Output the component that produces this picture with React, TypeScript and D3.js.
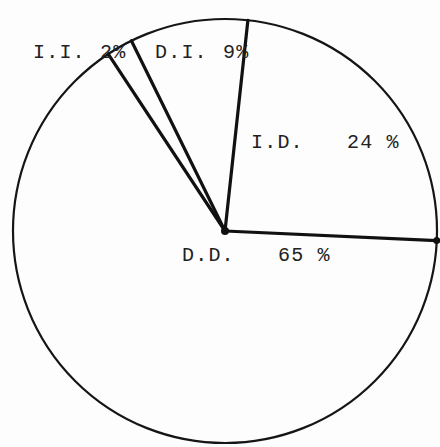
import React from "react";
import * as d3 from "d3";

const categories = ["I.D.", "D.D.", "I.I.", "D.I."];
const values = [24, 65, 2, 9];
const valueLabels = ["24 %", "65 %", "2%", "9%"];

// label layout (pixel positions of the name and of the value text)
const nameX = [251, 182, 33, 155];
const nameY = [148, 261, 58, 58];
const valX = [347, 278, 100, 223];

const W = 440;
const H = 447;
const cx = 225;
const cy = 231;
const R = 212;
const startDeg = 6.2;

export default function App() {
  const pie = d3
    .pie<number>()
    .sort(null)
    .startAngle((startDeg * Math.PI) / 180)
    .endAngle((startDeg * Math.PI) / 180 + 2 * Math.PI);
  const arcs = pie(values);
  const font = "'Liberation Mono', 'DejaVu Sans Mono', monospace";
  const rightEnd = d3.pointRadial(arcs[0].endAngle, R);
  return (
    <div style={{ position: "absolute", left: 0, top: 0, width: W, height: H, background: "#fff" }}>
      <svg width={W} height={H} style={{ display: "block" }}>
        <rect width={W} height={H} fill="#fdfdfd" />
        <g transform={`translate(${cx},${cy})`}>
          <circle r={R} fill="none" stroke="#151515" strokeWidth={2.2} />
          {arcs.map((a, i) => {
            const [x, y] = d3.pointRadial(a.startAngle, R);
            return (
              <line key={i} x1={0} y1={0} x2={x} y2={y} stroke="#111" strokeWidth={3.2} strokeLinecap="round" />
            );
          })}
          <circle r={4} fill="#111" />
          <circle cx={rightEnd[0]} cy={rightEnd[1]} r={3.5} fill="#111" />
        </g>
        {categories.map((c, i) => (
          <g key={c} fontFamily={font} fontSize={20} fill="#222">
            <text x={nameX[i]} y={nameY[i]} letterSpacing={1.2}>{c}</text>
            <text x={valX[i]} y={nameY[i]} letterSpacing={1.2}>{valueLabels[i]}</text>
          </g>
        ))}
      </svg>
    </div>
  );
}
